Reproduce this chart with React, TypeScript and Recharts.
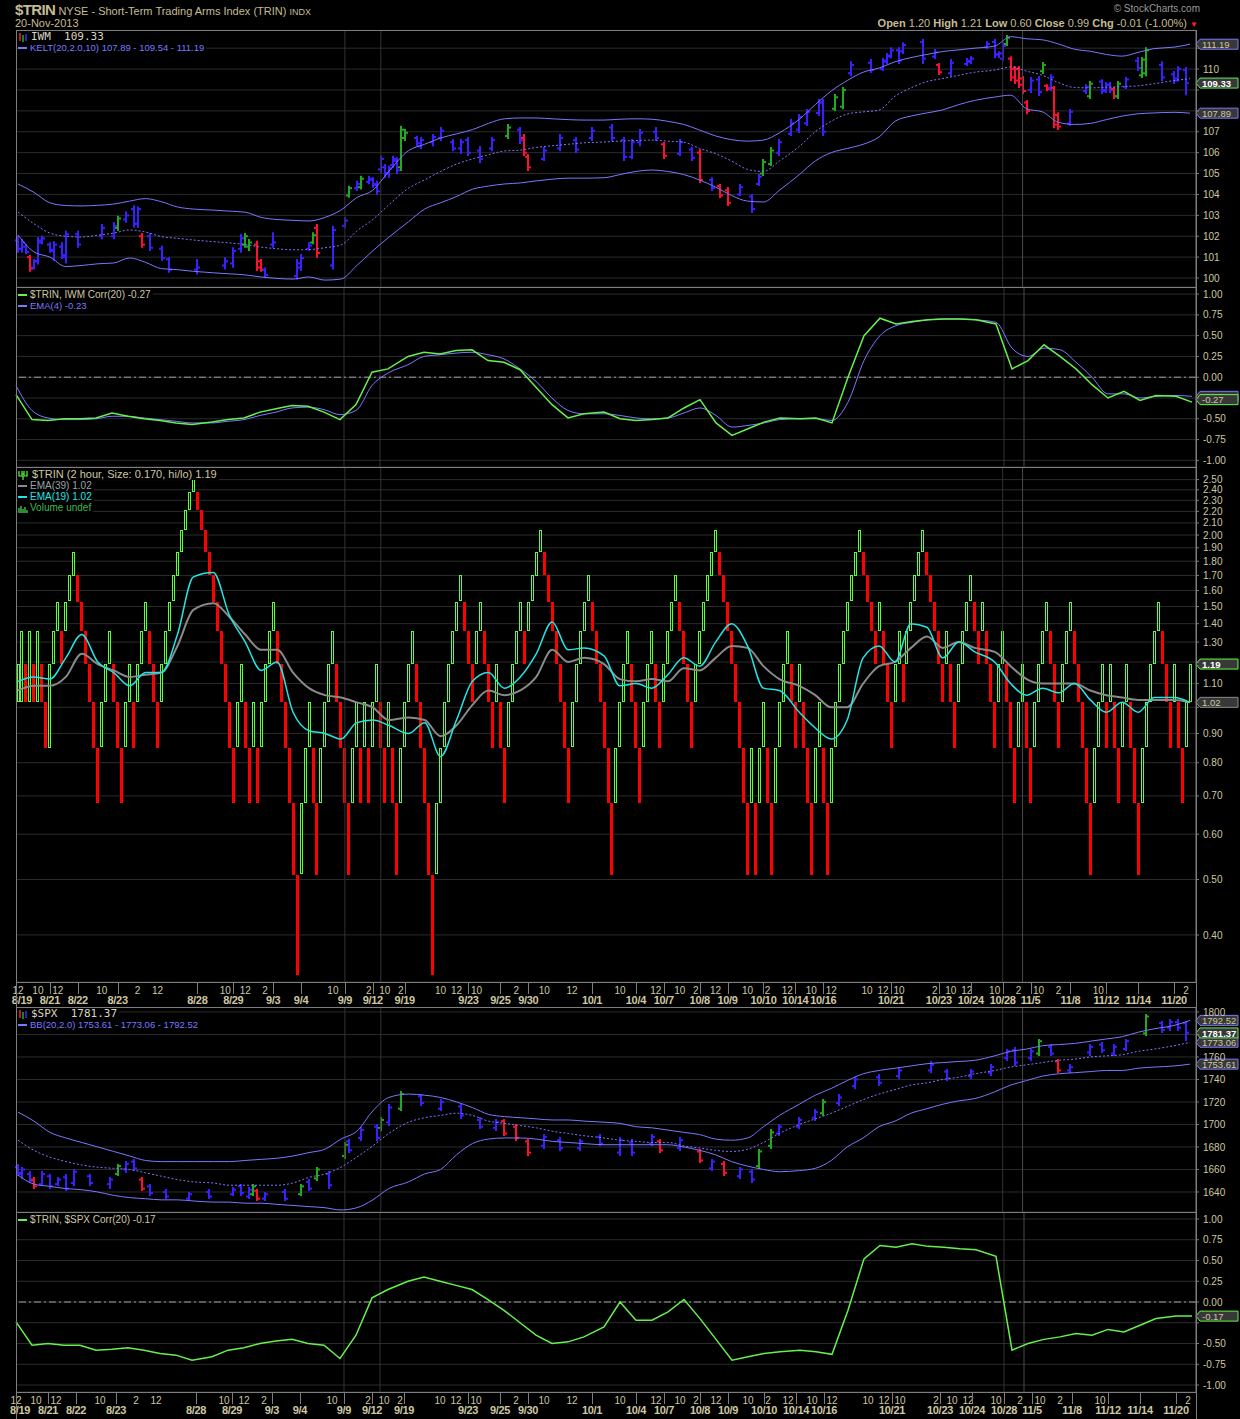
import React from "react";
import {
  ComposedChart,
  Bar,
  Line,
  XAxis,
  YAxis,
  CartesianGrid,
  ReferenceLine,
} from "recharts";

// number of x slots (one per TRIN brick column)
const N = 296;

// TRIN bricks, [open, close]; close > open is an up (green) brick
const trinBricks: [number, number][] = [
  [1.02, 1.19], [1.02, 1.36], [1.19, 1.02], [1.02, 1.36], [1.19, 1.02], [1.02, 1.36], [1.19, 1.02], [1.02, 0.85],
  [0.85, 1.19], [1.19, 1.36], [1.36, 1.53], [1.36, 1.19], [1.36, 1.53], [1.53, 1.7], [1.7, 1.87], [1.7, 1.53],
  [1.53, 1.36], [1.36, 1.19], [1.19, 1.02], [1.02, 0.85], [0.85, 0.68], [0.85, 1.02], [1.02, 1.19], [1.19, 1.36],
  [1.19, 1.02], [1.02, 0.85], [0.85, 0.68], [0.85, 1.02], [1.02, 1.19], [1.02, 0.85], [1.02, 1.19], [1.19, 1.36],
  [1.36, 1.53], [1.36, 1.19], [1.19, 1.02], [1.02, 0.85], [1.02, 1.19], [1.19, 1.36], [1.36, 1.53], [1.53, 1.7],
  [1.7, 1.87], [1.87, 2.04], [2.04, 2.21], [2.21, 2.38], [2.38, 2.55], [2.38, 2.21], [2.21, 2.04], [2.04, 1.87],
  [1.87, 1.7], [1.7, 1.53], [1.53, 1.36], [1.36, 1.19], [1.19, 1.02], [1.02, 0.85], [0.85, 0.68], [0.85, 1.02],
  [1.02, 1.19], [1.02, 0.85], [0.85, 0.68], [0.85, 1.02], [0.85, 0.68], [0.85, 1.02], [1.02, 1.19], [1.19, 1.36],
  [1.36, 1.53], [1.36, 1.19], [1.19, 1.02], [1.02, 0.85], [0.85, 0.68], [0.68, 0.51], [0.51, 0.34], [0.51, 0.68],
  [0.68, 0.85], [0.85, 1.02], [0.85, 0.68], [0.68, 0.51], [0.68, 0.85], [0.85, 1.02], [1.02, 1.19], [1.19, 1.36],
  [1.19, 1.02], [1.02, 0.85], [0.85, 0.68], [0.68, 0.51], [0.68, 0.85], [0.85, 1.02], [0.85, 0.68], [0.85, 1.02],
  [0.85, 0.68], [0.85, 1.02], [1.02, 1.19], [1.02, 0.85], [0.85, 0.68], [0.85, 1.02], [0.85, 0.68], [0.68, 0.51],
  [0.68, 0.85], [0.85, 1.02], [1.02, 1.19], [1.19, 1.36], [1.19, 1.02], [1.02, 0.85], [0.85, 0.68], [0.68, 0.51],
  [0.51, 0.34], [0.51, 0.68], [0.68, 0.85], [0.85, 1.02], [1.02, 1.19], [1.19, 1.36], [1.36, 1.53], [1.53, 1.7],
  [1.53, 1.36], [1.36, 1.19], [1.19, 1.02], [1.19, 1.36], [1.36, 1.53], [1.36, 1.19], [1.19, 1.02], [1.02, 0.85],
  [1.02, 1.19], [1.02, 0.85], [0.85, 0.68], [0.85, 1.02], [1.02, 1.19], [1.19, 1.36], [1.36, 1.53], [1.36, 1.19],
  [1.36, 1.53], [1.53, 1.7], [1.7, 1.87], [1.87, 2.04], [1.87, 1.7], [1.7, 1.53], [1.53, 1.36], [1.36, 1.19],
  [1.19, 1.02], [1.02, 0.85], [0.85, 0.68], [0.85, 1.02], [1.02, 1.19], [1.19, 1.36], [1.36, 1.53], [1.53, 1.7],
  [1.53, 1.36], [1.36, 1.19], [1.19, 1.02], [1.02, 0.85], [0.85, 0.68], [0.68, 0.51], [0.68, 0.85], [0.85, 1.02],
  [1.02, 1.19], [1.19, 1.36], [1.19, 1.02], [1.02, 0.85], [0.85, 0.68], [0.85, 1.02], [1.02, 1.19], [1.19, 1.36],
  [1.19, 1.02], [1.02, 0.85], [1.02, 1.19], [1.19, 1.36], [1.36, 1.53], [1.53, 1.7], [1.53, 1.36], [1.36, 1.19],
  [1.19, 1.02], [1.02, 0.85], [1.02, 1.19], [1.19, 1.36], [1.36, 1.53], [1.53, 1.7], [1.7, 1.87], [1.87, 2.04],
  [1.87, 1.7], [1.7, 1.53], [1.53, 1.36], [1.36, 1.19], [1.19, 1.02], [1.02, 0.85], [0.85, 0.68], [0.68, 0.51],
  [0.68, 0.85], [0.68, 0.51], [0.68, 0.85], [0.85, 1.02], [0.85, 0.68], [0.68, 0.51], [0.68, 0.85], [0.85, 1.02],
  [1.02, 1.19], [1.19, 1.36], [1.19, 1.02], [1.02, 0.85], [1.02, 1.19], [1.02, 0.85], [0.85, 0.68], [0.68, 0.51],
  [0.68, 0.85], [0.85, 1.02], [0.85, 0.68], [0.68, 0.51], [0.68, 0.85], [0.85, 1.02], [1.02, 1.19], [1.19, 1.36],
  [1.36, 1.53], [1.53, 1.7], [1.7, 1.87], [1.87, 2.04], [1.87, 1.7], [1.7, 1.53], [1.53, 1.36], [1.36, 1.19],
  [1.36, 1.53], [1.36, 1.19], [1.19, 1.02], [1.02, 0.85], [1.02, 1.19], [1.19, 1.36], [1.19, 1.02], [1.19, 1.36],
  [1.36, 1.53], [1.53, 1.7], [1.7, 1.87], [1.87, 2.04], [1.87, 1.7], [1.7, 1.53], [1.53, 1.36], [1.36, 1.19],
  [1.19, 1.02], [1.19, 1.36], [1.19, 1.02], [1.02, 0.85], [1.02, 1.19], [1.19, 1.36], [1.36, 1.53], [1.53, 1.7],
  [1.53, 1.36], [1.36, 1.19], [1.36, 1.53], [1.36, 1.19], [1.19, 1.02], [1.02, 0.85], [1.02, 1.19], [1.19, 1.36],
  [1.19, 1.02], [1.02, 0.85], [0.85, 0.68], [0.85, 1.02], [1.02, 1.19], [1.02, 0.85], [0.85, 0.68], [0.85, 1.02],
  [1.02, 1.19], [1.19, 1.36], [1.36, 1.53], [1.36, 1.19], [1.19, 1.02], [1.02, 0.85], [1.02, 1.19], [1.19, 1.36],
  [1.36, 1.53], [1.36, 1.19], [1.19, 1.02], [1.02, 0.85], [0.85, 0.68], [0.68, 0.51], [0.68, 0.85], [0.85, 1.02],
  [1.02, 1.19], [1.02, 0.85], [1.02, 1.19], [1.02, 0.85], [0.85, 0.68], [0.85, 1.02], [1.02, 1.19], [1.02, 0.85],
  [0.85, 0.68], [0.68, 0.51], [0.68, 0.85], [0.85, 1.02], [1.02, 1.19], [1.19, 1.36], [1.36, 1.53], [1.36, 1.19],
  [1.19, 1.02], [1.02, 0.85], [1.02, 1.19], [1.02, 0.85], [0.85, 0.68], [0.85, 1.02], [1.02, 1.19],
];

// slots where the indicator lines were read
const lineSlots = [
  0, 4, 8, 12, 16, 20, 24, 28, 32, 36, 40, 44, 49, 53, 57, 61, 65, 69, 73, 77,
  81, 85, 89, 93, 98, 102, 106, 110, 114, 118, 122, 126, 130, 134, 138, 142, 147, 151, 155, 159,
  163, 167, 171, 175, 179, 183, 187, 191, 196, 200, 204, 208, 212, 216, 220, 224, 228, 232, 236, 240,
  245, 249, 253, 257, 261, 265, 269, 273, 277, 281, 285, 290, 294,
];

const trinEma19 = [
  1.11, 1.13, 1.12, 1.22, 1.34, 1.2, 1.15, 1.09, 1.15, 1.15, 1.34, 1.69, 1.72, 1.45, 1.3, 1.16, 1.2, 0.98, 0.91, 0.9,
  0.88, 0.94, 0.95, 0.93, 0.9, 0.94, 0.82, 0.95, 1.11, 1.15, 1.08, 1.13, 1.24, 1.41, 1.26, 1.27, 1.23, 1.09, 1.1, 1.08,
  1.14, 1.22, 1.18, 1.3, 1.4, 1.28, 1.08, 1.07, 0.98, 0.92, 0.88, 0.95, 1.22, 1.28, 1.2, 1.4, 1.38, 1.22, 1.3, 1.25,
  1.2, 1.1, 1.05, 1.08, 1.06, 1.1, 1.03, 0.98, 1.02, 0.98, 1.04, 1.04, 1.02,
];
const trinEma39 = [
  1.07, 1.09, 1.09, 1.13, 1.24, 1.19, 1.16, 1.13, 1.14, 1.15, 1.28, 1.48, 1.52, 1.44, 1.34, 1.26, 1.26, 1.15, 1.08, 1.05,
  1.04, 1.02, 1.0, 0.95, 0.96, 0.95, 0.89, 0.93, 1.01, 1.07, 1.05, 1.07, 1.13, 1.26, 1.2, 1.22, 1.19, 1.12, 1.11, 1.12,
  1.11, 1.17, 1.16, 1.22, 1.28, 1.27, 1.18, 1.12, 1.09, 1.05, 1.0, 1.0, 1.1, 1.18, 1.2, 1.27, 1.33, 1.27, 1.3, 1.27,
  1.25, 1.18, 1.12, 1.1, 1.1, 1.1, 1.07, 1.05, 1.04, 1.03, 1.03, 1.03, 1.02,
];

const iwmCorr = [
  -0.21, -0.51, -0.52, -0.5, -0.5, -0.49, -0.43, -0.47, -0.5, -0.52, -0.55, -0.57, -0.54, -0.51, -0.49, -0.42, -0.38, -0.34, -0.35, -0.42,
  -0.51, -0.33, 0.06, 0.1, 0.25, 0.3, 0.28, 0.32, 0.33, 0.2, 0.18, 0.09, -0.12, -0.33, -0.49, -0.44, -0.42, -0.5, -0.52, -0.51,
  -0.49, -0.37, -0.27, -0.55, -0.7, -0.62, -0.54, -0.49, -0.5, -0.49, -0.55, 0.0, 0.5, 0.71, 0.64, 0.67, 0.69, 0.7, 0.7, 0.69,
  0.64, 0.1, 0.2, 0.39, 0.25, 0.1, -0.09, -0.25, -0.17, -0.28, -0.22, -0.23, -0.3,
];
const iwmCorrEma = [
  -0.1, -0.4, -0.49, -0.51, -0.51, -0.5, -0.47, -0.47, -0.49, -0.51, -0.53, -0.55, -0.55, -0.53, -0.51, -0.46, -0.42, -0.37, -0.36, -0.39,
  -0.45, -0.4, -0.1, 0.05, 0.15, 0.25, 0.27, 0.29, 0.3, 0.27, 0.22, 0.1, -0.05, -0.25, -0.4, -0.44, -0.44, -0.46, -0.49, -0.5,
  -0.49, -0.43, -0.37, -0.46, -0.6, -0.58, -0.55, -0.51, -0.5, -0.5, -0.52, -0.3, 0.2, 0.5, 0.62, 0.66, 0.69, 0.7, 0.7, 0.69,
  0.66, 0.35, 0.25, 0.35, 0.33, 0.18, 0.0, -0.2, -0.2, -0.25, -0.23, -0.22, -0.23,
];
const spxCorr = [
  -0.24, -0.52, -0.5, -0.52, -0.52, -0.58, -0.57, -0.55, -0.58, -0.62, -0.64, -0.7, -0.66, -0.58, -0.55, -0.5, -0.47, -0.45, -0.5, -0.52,
  -0.68, -0.4, 0.05, 0.15, 0.25, 0.3, 0.25, 0.2, 0.15, 0.03, -0.1, -0.25, -0.4, -0.5, -0.48, -0.42, -0.3, 0.0, -0.22, -0.22,
  -0.12, 0.03, -0.2, -0.45, -0.7, -0.66, -0.62, -0.6, -0.58, -0.6, -0.63, -0.1, 0.52, 0.68, 0.66, 0.7, 0.67, 0.66, 0.64, 0.63,
  0.55, -0.58, -0.5, -0.45, -0.42, -0.38, -0.4, -0.33, -0.36, -0.28, -0.2, -0.17, -0.17,
];

const keltUpper = [
  104.5, 104.1, 103.6, 103.47, 103.45, 103.48, 103.54, 103.68, 103.8, 103.65, 103.4, 103.3, 103.25, 103.2, 103.15, 102.9, 102.8, 102.76, 102.73, 102.9,
  103.25, 103.85, 104.2, 105.1, 106.1, 106.4, 106.7, 106.9, 107.1, 107.4, 107.62, 107.66, 107.66, 107.62, 107.58, 107.56, 107.56, 107.6, 107.62, 107.6,
  107.5, 107.35, 107.08, 106.8, 106.62, 106.55, 106.6, 106.95, 107.6, 108.3, 108.95, 109.45, 109.85, 110.05, 110.35, 110.55, 110.7, 110.84, 110.92, 111.0,
  111.1, 111.55, 111.45, 111.4, 111.2, 110.95, 110.85, 110.7, 110.62, 110.8, 110.98, 111.05, 111.19,
];
const keltMid = [
  103.16, 102.6, 102.15, 102.0, 101.96, 102.05, 102.15, 102.3, 102.2, 101.98, 101.9, 101.82, 101.74, 101.68, 101.6, 101.48, 101.4, 101.35, 101.36, 101.45,
  101.58, 102.25, 102.8, 103.5, 104.3, 104.7, 105.1, 105.45, 105.7, 105.9, 106.08, 106.12, 106.25, 106.33, 106.4, 106.47, 106.51, 106.55, 106.58, 106.6,
  106.55, 106.5, 106.2, 105.95, 105.6, 105.2, 105.1, 105.6, 106.3, 107.0, 107.5, 107.85, 107.95, 108.04, 108.7, 109.1, 109.4, 109.55, 109.7, 109.85,
  109.95, 110.1, 109.9, 109.7, 109.35, 109.12, 109.1, 109.13, 109.16, 109.2, 109.3, 109.45, 109.54,
];
const keltLower = [
  102.06, 101.25, 101.0, 100.55, 100.6, 100.68, 100.72, 100.96, 100.75, 100.45, 100.4, 100.32, 100.25, 100.2, 100.15, 100.05, 99.98, 99.95, 100.05, 99.9,
  99.95, 100.6, 101.3, 101.95, 102.7, 103.3, 103.6, 103.9, 104.25, 104.4, 104.5, 104.55, 104.65, 104.73, 104.78, 104.78, 104.8, 104.95, 105.1, 105.17,
  105.1, 104.95, 104.69, 104.35, 103.95, 103.68, 103.64, 104.2, 104.95, 105.6, 106.0, 106.2, 106.4, 106.75, 107.5, 107.75, 107.9, 108.05, 108.3, 108.5,
  108.66, 108.75, 108.1, 107.95, 107.45, 107.35, 107.4, 107.58, 107.75, 107.86, 107.9, 107.93, 107.89,
];

const bbUpper = [
  1711, 1703, 1693, 1688, 1684, 1680, 1676, 1672, 1668, 1667, 1667, 1667, 1667, 1667, 1668, 1669, 1670, 1672, 1675, 1678,
  1687, 1694, 1712, 1724, 1727, 1726, 1724, 1720, 1715, 1709, 1707, 1706, 1705, 1704, 1704, 1703, 1702, 1701, 1698, 1697,
  1695, 1693, 1691, 1687, 1686, 1688, 1698, 1708, 1718, 1726, 1732, 1739, 1745, 1748, 1750, 1752, 1754, 1755, 1756, 1757,
  1761, 1765, 1767, 1770, 1771, 1772, 1774, 1776, 1778, 1782, 1785, 1788, 1792.5,
];
const bbMid = [
  1686, 1677, 1671, 1667, 1664, 1662, 1661, 1660, 1657, 1654, 1651, 1649, 1648, 1646, 1646, 1646, 1646, 1648, 1653, 1656,
  1662, 1671, 1681, 1692, 1702, 1706, 1708, 1710, 1708, 1703, 1701, 1699, 1697, 1694, 1692, 1690, 1688, 1686, 1685, 1684,
  1684, 1681, 1679, 1677, 1676, 1678, 1684, 1692, 1700, 1705, 1710, 1716, 1722, 1727, 1731, 1735, 1737, 1740, 1742, 1745,
  1748, 1751, 1753, 1755, 1757, 1758, 1760, 1761, 1762, 1765, 1767, 1770, 1773,
];
const bbLower = [
  1655, 1647, 1645, 1643, 1642, 1640, 1637, 1635, 1634, 1633, 1633, 1632, 1631, 1631, 1630, 1630, 1629, 1628, 1627, 1626,
  1624, 1626, 1633, 1643, 1649, 1656, 1660, 1673, 1683, 1687, 1688, 1688, 1687, 1685, 1684, 1683, 1682, 1682, 1682, 1682,
  1682, 1680, 1677, 1673, 1667, 1663, 1660, 1658, 1659, 1661, 1668, 1680, 1688, 1698, 1703, 1710, 1714, 1718, 1721, 1723,
  1729, 1735, 1739, 1743, 1745, 1746, 1747, 1748, 1748, 1750, 1751, 1752, 1753.6,
];

// price bars: [slot, open, high, low, close, colour code]
type Ohlc = [number, number, number, number, number, string];
const iwmBars: Ohlc[] = [
  [0, 101.8, 101.98, 101.26, 101.4, "b"], [1, 101.4, 101.82, 101.26, 101.7, "b"], [2, 101.5, 101.58, 101.18, 101.25, "b"],
  [3, 101.0, 101.05, 100.35, 100.45, "r"], [4, 100.5, 100.86, 100.46, 100.8, "b"], [5, 100.8, 101.9, 100.7, 101.8, "b"],
  [6, 101.7, 101.98, 101.66, 101.9, "b"], [8, 101.6, 101.66, 101.26, 101.35, "b"], [9, 101.3, 101.71, 100.86, 101.6, "b"],
  [11, 101.5, 101.66, 100.94, 101.1, "b"], [12, 101.0, 102.22, 100.74, 102.1, "b"], [15, 102.1, 102.22, 101.5, 101.6, "b"],
  [21, 102.0, 102.54, 101.9, 102.4, "b"], [24, 102.0, 102.62, 101.9, 102.5, "b"], [25, 102.4, 102.93, 102.3, 102.85, "g"],
  [27, 102.8, 103.13, 102.69, 103.0, "b"], [29, 103.3, 103.44, 102.45, 102.6, "b"], [30, 102.6, 103.38, 102.45, 103.3, "b"],
  [31, 102.0, 102.11, 101.5, 101.6, "r"], [33, 102.0, 102.11, 101.34, 101.45, "b"], [36, 101.4, 101.5, 100.86, 100.95, "b"],
  [38, 100.9, 100.94, 100.3, 100.4, "b"], [45, 100.4, 100.86, 100.22, 100.5, "b"], [52, 100.6, 100.94, 100.46, 100.8, "b"],
  [54, 100.7, 101.42, 100.54, 101.3, "b"], [56, 101.4, 102.06, 101.26, 101.9, "b"], [57, 101.6, 102.11, 101.5, 102.0, "g"],
  [58, 101.5, 101.82, 101.34, 101.7, "g"], [60, 101.6, 101.74, 100.38, 100.5, "r"], [61, 100.8, 100.86, 100.35, 100.4, "r"],
  [62, 100.4, 100.46, 100.06, 100.15, "b"], [64, 101.6, 102.14, 101.5, 101.7, "b"], [70, 100.1, 100.86, 99.98, 100.7, "b"],
  [71, 100.5, 101.1, 100.38, 100.95, "b"], [73, 101.4, 101.66, 101.34, 101.55, "b"], [74, 101.7, 102.14, 101.66, 102.05, "g"],
  [75, 102.4, 102.54, 101.02, 101.2, "r"], [79, 100.6, 102.45, 100.46, 102.3, "b"], [82, 102.5, 102.86, 102.45, 102.75, "b"],
  [83, 103.95, 104.37, 103.89, 104.3, "g"], [85, 104.3, 104.61, 104.21, 104.5, "b"], [86, 104.35, 104.85, 104.29, 104.75, "g"],
  [88, 104.6, 104.85, 104.53, 104.75, "b"], [89, 104.7, 104.77, 104.37, 104.45, "b"], [90, 104.5, 104.61, 104.05, 104.15, "b"],
  [91, 105.2, 105.8, 105.09, 105.7, "b"], [92, 105.3, 105.41, 104.85, 105.0, "b"], [93, 105.0, 105.33, 104.85, 105.25, "b"],
  [94, 105.4, 105.8, 105.33, 105.7, "b"], [95, 105.6, 105.73, 105.01, 105.15, "b"], [96, 105.3, 107.24, 105.17, 107.1, "g"],
  [97, 106.7, 107.08, 106.6, 106.95, "g"], [100, 106.7, 106.76, 106.36, 106.45, "b"], [101, 106.3, 106.7, 106.22, 106.6, "b"],
  [104, 106.5, 106.84, 106.36, 106.75, "b"], [106, 106.7, 107.18, 106.6, 107.05, "b"], [109, 106.5, 106.6, 106.12, 106.2, "b"],
  [111, 106.2, 106.6, 105.98, 106.5, "b"], [113, 106.6, 106.7, 105.89, 106.0, "b"], [116, 106.1, 106.27, 105.55, 105.7, "b"],
  [119, 106.2, 106.7, 106.12, 106.6, "b"], [123, 106.8, 107.32, 106.7, 107.2, "g"], [126, 107.1, 107.18, 106.46, 106.6, "b"],
  [127, 106.7, 106.84, 105.89, 106.0, "r"], [128, 105.8, 105.89, 105.17, 105.3, "r"], [132, 105.7, 106.22, 105.65, 106.1, "b"],
  [136, 106.2, 106.84, 106.12, 106.7, "b"], [140, 106.6, 106.7, 106.03, 106.15, "b"], [144, 106.7, 107.18, 106.6, 107.05, "b"],
  [149, 107.2, 107.32, 106.6, 106.7, "b"], [152, 106.6, 106.7, 105.65, 105.8, "b"], [154, 105.8, 106.6, 105.74, 106.5, "b"],
  [156, 106.5, 107.08, 106.36, 106.95, "b"], [160, 107.0, 107.18, 106.6, 106.7, "b"], [162, 106.4, 106.46, 105.74, 105.85, "r"],
  [166, 105.95, 106.6, 105.89, 106.5, "b"], [169, 106.15, 106.22, 105.65, 105.75, "b"], [171, 106.0, 106.12, 104.59, 104.7, "r"],
  [174, 104.7, 104.78, 104.21, 104.3, "b"], [176, 104.4, 104.45, 103.88, 103.95, "r"], [178, 104.2, 104.31, 103.49, 103.6, "r"],
  [181, 104.0, 104.45, 103.97, 104.35, "b"], [184, 103.9, 103.97, 103.16, 103.3, "b"], [186, 104.5, 104.93, 104.45, 104.85, "b"],
  [187, 105.0, 105.65, 104.93, 105.55, "g"], [189, 105.45, 106.22, 105.41, 106.1, "g"], [191, 106.0, 106.6, 105.89, 106.5, "b"],
  [194, 106.9, 107.56, 106.84, 107.4, "b"], [196, 107.1, 107.8, 106.99, 107.7, "b"], [198, 107.4, 108.04, 107.32, 107.95, "b"],
  [201, 107.9, 108.52, 107.8, 108.4, "b"], [202, 108.4, 108.52, 106.84, 107.0, "b"], [205, 108.1, 108.76, 108.04, 108.65, "g"],
  [207, 108.2, 109.09, 108.13, 109.0, "g"], [209, 109.8, 110.33, 109.71, 110.2, "b"], [214, 110.3, 110.43, 109.86, 109.95, "b"],
  [217, 110.0, 110.48, 109.95, 110.4, "b"], [218, 110.35, 110.72, 110.29, 110.6, "b"], [219, 110.65, 111.0, 110.57, 110.9, "b"],
  [221, 110.9, 111.0, 110.29, 110.4, "b"], [222, 110.85, 111.24, 110.77, 111.15, "b"], [227, 111.3, 111.39, 110.29, 110.5, "b"],
  [230, 110.6, 110.91, 110.53, 110.8, "b"], [231, 110.2, 110.24, 109.76, 109.85, "r"], [234, 109.8, 110.43, 109.71, 110.3, "b"],
  [238, 110.25, 110.48, 110.19, 110.4, "b"], [239, 110.35, 110.57, 110.29, 110.5, "b"], [243, 111.05, 111.29, 111.0, 111.2, "b"],
  [245, 111.3, 111.39, 110.57, 110.7, "b"], [246, 110.7, 110.81, 110.57, 110.75, "b"], [247, 110.5, 111.24, 110.43, 111.1, "b"],
  [248, 111.2, 111.58, 111.15, 111.5, "g"], [249, 110.5, 110.57, 109.47, 109.6, "r"], [250, 110.0, 110.1, 109.33, 109.45, "r"],
  [251, 110.0, 110.1, 109.14, 109.25, "r"], [252, 109.55, 109.62, 108.85, 108.95, "r"], [253, 108.4, 108.47, 107.89, 108.0, "r"],
  [254, 109.0, 109.57, 108.9, 109.45, "b"], [256, 109.5, 109.62, 108.76, 108.9, "b"], [257, 109.9, 110.29, 109.81, 110.2, "g"],
  [258, 109.2, 109.23, 108.99, 109.05, "r"], [259, 109.1, 109.71, 108.99, 109.6, "b"], [260, 109.1, 109.14, 107.22, 107.35, "r"],
  [261, 107.8, 107.89, 107.13, 107.25, "r"], [264, 107.4, 108.04, 107.32, 107.95, "b"], [268, 108.95, 109.23, 108.85, 109.15, "b"],
  [269, 108.7, 109.38, 108.61, 109.3, "g"], [272, 109.4, 109.47, 108.85, 108.95, "b"], [273, 109.0, 109.33, 108.9, 109.25, "b"],
  [274, 109.25, 109.33, 108.9, 109.0, "b"], [275, 109.05, 109.09, 108.61, 108.7, "r"], [276, 108.7, 109.38, 108.61, 109.3, "g"],
  [278, 109.15, 109.57, 109.09, 109.5, "b"], [281, 110.4, 110.53, 109.95, 110.05, "b"], [282, 109.7, 110.53, 109.62, 110.45, "g"],
  [283, 109.8, 111.0, 109.71, 110.9, "g"], [287, 110.2, 110.33, 109.47, 109.6, "b"], [290, 109.75, 109.86, 109.33, 109.45, "b"],
  [291, 109.55, 110.1, 109.47, 110.0, "b"], [293, 109.95, 110.05, 108.8, 109.33, "b"],
];

const spxBars: Ohlc[] = [
  [0, 1662, 1664, 1655.1, 1657, "b"], [1, 1656, 1661.3, 1652.4, 1660, "b"], [3, 1656, 1657.8, 1648.9, 1650, "b"],
  [4, 1651, 1652.4, 1643.6, 1645, "r"], [6, 1647, 1657.8, 1646.2, 1656, "b"], [8, 1654, 1655.1, 1643.6, 1645, "b"],
  [10, 1647, 1652.4, 1646.2, 1651, "b"], [12, 1653, 1655.1, 1641.8, 1643, "b"], [14, 1648, 1659.6, 1646.2, 1658, "b"],
  [18, 1654, 1655.1, 1646.2, 1648, "b"], [23, 1647, 1652.4, 1643.6, 1651, "b"], [25, 1656, 1664, 1655.1, 1663, "g"],
  [27, 1660, 1666.7, 1657.8, 1665, "b"], [29, 1667, 1668.4, 1659.6, 1661, "b"], [31, 1651, 1652.4, 1641.8, 1643, "r"],
  [33, 1645, 1646.2, 1637.3, 1639, "b"], [37, 1640, 1641.8, 1634.7, 1636, "b"], [43, 1634, 1639.1, 1632.9, 1638, "b"],
  [48, 1640, 1641.8, 1634.7, 1636, "b"], [54, 1638, 1643.6, 1637.3, 1642, "b"], [56, 1645, 1646.2, 1637.3, 1639, "b"],
  [58, 1636, 1643.6, 1634.7, 1642, "b"], [59, 1638, 1646.2, 1637.3, 1645, "g"], [60, 1641, 1641.8, 1632.9, 1634, "r"],
  [62, 1634, 1639.1, 1632.9, 1638, "b"], [67, 1640, 1641.8, 1632.9, 1634, "b"], [71, 1638, 1646.2, 1637.3, 1645, "g"],
  [73, 1649, 1650.7, 1641.8, 1643, "b"], [75, 1652, 1661.3, 1650.7, 1660, "g"], [78, 1656, 1657.8, 1643.6, 1646, "b"],
  [82, 1672, 1683.6, 1670.2, 1682, "g"], [83, 1685, 1686.2, 1675.6, 1677, "b"], [86, 1688, 1696.9, 1686.2, 1695, "b"],
  [90, 1698, 1699.6, 1686.2, 1688, "b"], [91, 1697, 1705.8, 1695.1, 1704, "g"], [93, 1702, 1717.3, 1699.6, 1715, "b"],
  [96, 1714, 1728.9, 1712.9, 1727, "g"], [101, 1725, 1726.2, 1717.3, 1719, "b"], [106, 1714, 1721.8, 1712.9, 1720, "b"],
  [111, 1716, 1717.3, 1705.8, 1708, "b"], [116, 1704, 1705.8, 1696.9, 1698, "b"], [120, 1697, 1704, 1695.1, 1702, "b"],
  [122, 1703, 1704, 1690.7, 1692, "r"], [125, 1698, 1699.6, 1686.2, 1688, "r"], [128, 1685, 1686.2, 1672.9, 1675, "r"],
  [132, 1681, 1690.7, 1679.1, 1689, "b"], [136, 1686, 1688, 1677.3, 1679, "b"], [141, 1679, 1686.2, 1677.3, 1685, "b"],
  [146, 1689, 1690.7, 1681.8, 1683, "b"], [151, 1675, 1688, 1672.9, 1686, "b"], [154, 1684, 1686.2, 1672.9, 1675, "b"],
  [159, 1683, 1690.7, 1681.8, 1689, "b"], [161, 1685, 1686.2, 1675.6, 1677, "r"], [166, 1679, 1688, 1677.3, 1686, "b"],
  [171, 1676, 1677.3, 1666.7, 1668, "r"], [174, 1661, 1668.4, 1659.6, 1667, "b"], [177, 1665, 1666.7, 1655.1, 1657, "r"],
  [181, 1654, 1661.3, 1652.4, 1660, "b"], [184, 1658, 1659.6, 1648.9, 1651, "b"], [186, 1663, 1677.3, 1661.3, 1676, "g"],
  [189, 1681, 1695.1, 1679.1, 1693, "g"], [191, 1692, 1699.6, 1690.7, 1698, "b"], [196, 1698, 1705.8, 1696.9, 1704, "b"],
  [200, 1706, 1712.9, 1704, 1711, "b"], [202, 1710, 1721.8, 1708.4, 1720, "g"], [206, 1719, 1726.2, 1717.3, 1724, "b"],
  [210, 1734, 1741.3, 1732.4, 1740, "b"], [216, 1742, 1744, 1735.1, 1737, "b"], [221, 1743, 1750.2, 1741.3, 1748, "b"],
  [229, 1748, 1755.6, 1746.7, 1753, "b"], [233, 1747, 1748.4, 1739.6, 1741, "b"], [239, 1743, 1748.4, 1741.3, 1747, "b"],
  [244, 1746, 1752.9, 1744, 1751, "b"], [248, 1759, 1766.2, 1757.3, 1765, "b"], [250, 1766, 1768, 1752.9, 1755, "b"],
  [254, 1759, 1766.2, 1757.3, 1765, "b"], [256, 1763, 1775.1, 1761.8, 1774, "g"], [259, 1769, 1770.7, 1761.8, 1763, "b"],
  [261, 1756, 1757.3, 1746.7, 1748, "r"], [264, 1748, 1752.9, 1746.7, 1751, "b"], [269, 1764, 1770.7, 1761.8, 1769, "b"],
  [272, 1771, 1772.4, 1764.4, 1766, "b"], [275, 1763, 1770.7, 1761.8, 1769, "b"], [278, 1767, 1775.1, 1766.2, 1774, "b"],
  [283, 1781, 1797.3, 1779.6, 1796, "g"], [287, 1790, 1791.1, 1782.2, 1784, "b"], [289, 1786, 1792.9, 1784, 1791, "b"],
  [291, 1791, 1792.9, 1784, 1786, "b"], [293, 1790, 1791.1, 1775.1, 1781.4, "b"],
];

// x axis labels, by slot
const hourTicks: [number, string][] = [
  [0, "12"], [5, "10"], [10, "12"], [21, "10"], [30, "2"], [35, "12"], [52, "10"], [57, "12"], [62, "2"], [79, "10"],
  [88, "2"], [92, "10"], [96, "2"], [106, "10"], [110, "12"], [115, "10"], [125, "2"], [132, "10"], [139, "12"], [151, "10"],
  [160, "12"], [166, "10"], [170, "2"], [175, "12"], [183, "10"], [188, "2"], [193, "12"], [199, "10"], [204, "12"], [213, "10"],
  [217, "12"], [221, "10"], [230, "2"], [234, "10"], [238, "12"], [245, "10"], [251, "2"], [256, "10"], [261, "2"], [271, "10"],
  [293, "2"],
];
const dateTicks: [number, string][] = [
  [1, "8/19"], [8, "8/21"], [15, "8/22"], [25, "8/23"], [45, "8/28"], [54, "8/29"], [64, "9/3"], [71, "9/4"], [82, "9/9"],
  [89, "9/12"], [97, "9/19"], [113, "9/23"], [121, "9/25"], [128, "9/30"], [144, "10/1"], [155, "10/4"], [162, "10/7"],
  [171, "10/8"], [178, "10/9"], [187, "10/10"], [195, "10/14"], [202, "10/16"], [219, "10/21"], [231, "10/23"], [239, "10/24"],
  [247, "10/28"], [254, "11/5"], [264, "11/8"], [273, "11/12"], [281, "11/14"], [290, "11/20"],
];
const gridSlots = [82, 91, 247, 252];

const iwmTicks = [100, 101, 102, 103, 104, 105, 106, 107, 108, 109, 110, 111];
const corrTicks = [-1, -0.75, -0.5, -0.25, 0, 0.25, 0.5, 0.75, 1];
const trinTicks = [0.4, 0.5, 0.6, 0.7, 0.8, 0.9, 1.0, 1.1, 1.2, 1.3, 1.4, 1.5, 1.6, 1.7, 1.8, 1.9, 2.0, 2.1, 2.2, 2.3, 2.4, 2.5];
const spxTicks = [1640, 1660, 1680, 1700, 1720, 1740, 1760, 1780, 1800];

// one table row per slot
const rows: any[] = Array.from({ length: N }, (_, i) => ({ i }));
trinBricks.forEach(([o, c], i) => {
  rows[i].trin = [Math.min(o, c), Math.max(o, c)];
  rows[i].trinUp = c > o;
});
lineSlots.forEach((s, k) => {
  Object.assign(rows[s], {
    ema19: trinEma19[k], ema39: trinEma39[k], corr: iwmCorr[k], corrEma: iwmCorrEma[k], spxCorr: spxCorr[k],
    kU: keltUpper[k], kM: keltMid[k], kL: keltLower[k], bU: bbUpper[k], bM: bbMid[k], bL: bbLower[k],
  });
});
const putBars = (bars: Ohlc[], key: string) =>
  bars.forEach(([s, o, h, l, c, col]) => {
    rows[s][key] = [l, h];
    rows[s][key + "O"] = o;
    rows[s][key + "C"] = c;
    rows[s][key + "Col"] = col;
  });
putBars(iwmBars, "iwm");
putBars(spxBars, "spx");

const FONT = '"Liberation Sans", Arial, sans-serif';
const TAN = "#cdc7a4";
const GRID = "#2b2b2b";
const EDGE = "#7d7d7d";
const BAND = "#7a78ff";
const CORR = "#66f04e";
const UP = "#5cff3c";
const BAR_COLORS: Record<string, string> = { b: "#3a20ff", g: "#1faa1f", r: "#ff1030" };

function Brick(props: any) {
  const { x, y, width, height, payload } = props;
  if (x == null || !payload || !payload.trin) return null;
  const top = Math.min(y, y + height);
  const h = Math.abs(height);
  const left = Math.round(x + (width - 3) / 2);
  if (payload.trinUp) {
    return (
      <rect x={left + 0.5} y={Math.round(top) + 0.5} width={2} height={Math.max(Math.round(h) - 1, 1)}
        fill="none" stroke={UP} strokeWidth={1} shapeRendering="crispEdges" />
    );
  }
  return <rect x={left} y={top} width={3} height={h} fill="#ff0000" shapeRendering="crispEdges" />;
}

function ohlc(key: string) {
  return (props: any) => {
    const { x, y, width, height, payload } = props;
    const range = payload && payload[key];
    if (!range || x == null) return null;
    const [lo, hi] = range;
    const top = Math.min(y, y + height);
    const h = Math.abs(height);
    const py = (v: number) => top + ((hi - v) / (hi - lo)) * h;
    const cx = Math.round(x + width / 2);
    const col = BAR_COLORS[payload[key + "Col"]];
    return (
      <g>
        <line x1={cx} x2={cx} y1={top - 1} y2={top + h + 1} stroke={col} strokeWidth={2} />
        <line x1={cx - 3} x2={cx} y1={py(payload[key + "O"])} y2={py(payload[key + "O"])} stroke={col} strokeWidth={2} />
        <line x1={cx} x2={cx + 3} y1={py(payload[key + "C"])} y2={py(payload[key + "C"])} stroke={col} strokeWidth={2} />
      </g>
    );
  };
}

function badge(text: string, stroke: string, bold = false) {
  return (props: any) => {
    const vb = props.viewBox || {};
    const x = vb.x + vb.width;
    const y = vb.y;
    return (
      <g>
        <path d={`M${x},${y} L${x + 4},${y - 5} H${x + 42} V${y + 5} H${x + 4} Z`} fill="#383838" stroke={stroke} strokeWidth={1} />
        <text x={x + 6} y={y + 3.6} fontSize={9.5} fontFamily={FONT} fill={bold ? "#ffffff" : TAN} fontWeight={bold ? "bold" : "normal"}>
          {text}
        </text>
      </g>
    );
  };
}

// tick labels that sit under a value badge are left blank (gridline kept)
const fmtHidden = (hidden: number[], digits: number) => (v: number) =>
  hidden.some((h) => Math.abs(h - v) < 1e-6) ? "" : v.toFixed(digits);

const hourMap = new Map(hourTicks);
const dateMap = new Map(dateTicks);

function HourTick(props: any) {
  const { x, y, payload } = props;
  return (
    <text x={x} y={y + 11.5} textAnchor="middle" fontSize={10} fontFamily={FONT} fill={TAN}>
      {hourMap.get(payload.value)}
    </text>
  );
}

function DateTick(props: any) {
  const { x, y, payload } = props;
  const first = payload.value === dateTicks[0][0];
  return (
    <g>
      {!first && <line x1={Math.round(x) + 0.5} x2={Math.round(x) + 0.5} y1={y - 13} y2={y - 1} stroke={EDGE} />}
      <text x={x} y={y + 9} textAnchor="middle" fontSize={11} fontWeight="bold" fontFamily={FONT} fill={TAN} letterSpacing={-0.3}>
        {dateMap.get(payload.value)}
      </text>
    </g>
  );
}

const yAxisProps = {
  orientation: "right" as const,
  width: 44,
  type: "number" as const,
  allowDataOverflow: true,
  interval: 0 as const,
  tickSize: 3,
  tickMargin: 4,
  tick: { fill: TAN, fontSize: 10, fontFamily: FONT },
  tickLine: { stroke: EDGE },
  axisLine: { stroke: EDGE },
};

const chartProps = {
  width: 1240,
  data: rows,
  margin: { top: 0, right: 0, bottom: 0, left: 16 },
  barCategoryGap: 0,
  barGap: 0,
};

const vGrid = (
  <>
    {gridSlots.map((s) => (
      <ReferenceLine key={s} x={s} stroke={s === 252 ? "#4a4a4a" : "#333333"} />
    ))}
  </>
);

function bottomAxes() {
  return [
    <XAxis key="h" dataKey="i" ticks={hourTicks.map((t) => t[0])} interval={0} tick={<HourTick />}
      tickLine={false} axisLine={false} height={13} tickSize={0} tickMargin={0} />,
    <XAxis key="d" xAxisId="d" dataKey="i" ticks={dateTicks.map((t) => t[0])} interval={0} tick={<DateTick />}
      tickLine={false} axisLine={false} height={14} tickSize={0} tickMargin={0} />,
  ];
}

const dash = (color: string) => (
  <span style={{ display: "inline-block", width: 9, height: 2, background: color, verticalAlign: "middle", marginRight: 3 }} />
);

const legendBox: React.CSSProperties = {
  position: "absolute",
  background: "#000",
  whiteSpace: "nowrap",
  fontFamily: FONT,
  lineHeight: "11px",
  paddingRight: 2,
};

function BarIcon() {
  return (
    <svg width={11} height={10} style={{ verticalAlign: "middle", marginRight: 2 }}>
      <line x1={2} x2={2} y1={1} y2={9} stroke="#ff2020" strokeWidth={1.5} />
      <line x1={5} x2={5} y1={3} y2={10} stroke="#20b020" strokeWidth={1.5} />
      <line x1={8} x2={8} y1={2} y2={9} stroke="#3030ff" strokeWidth={1.5} />
    </svg>
  );
}

export default function App() {
  return (
    <div style={{ position: "absolute", left: 0, top: 0, width: 1240, height: 1419, background: "#000", overflow: "hidden", fontFamily: FONT }}>
      {/* header */}
      <div style={{ position: "absolute", left: 15, top: 1, color: "#c4bc94", fontSize: 11, whiteSpace: "nowrap" }}>
        <span style={{ fontSize: 15, fontWeight: "bold", letterSpacing: -0.6 }}>$TRIN</span>
        <span> NYSE - Short-Term Trading Arms Index (TRIN) </span>
        <span style={{ fontSize: 9 }}>INDX</span>
      </div>
      <div style={{ position: "absolute", left: 15, top: 17, color: "#c4bc94", fontSize: 11 }}>20-Nov-2013</div>
      <div style={{ position: "absolute", right: 40, top: 3, color: "#9a9a9a", fontSize: 10 }}>© StockCharts.com</div>
      <div style={{ position: "absolute", right: 42, top: 17, color: "#c4bc94", fontSize: 11, whiteSpace: "nowrap" }}>
        <b>Open</b> 1.20 <b>High</b> 1.21 <b>Low</b> 0.60 <b>Close</b> 0.99 <b>Chg</b> -0.01 (-1.00%){" "}
        <span style={{ color: "#ff2020", fontSize: 8 }}>▼</span>
      </div>

      {/* IWM with Keltner channels */}
      <div style={{ position: "absolute", left: 0, top: 30 }}>
        <ComposedChart {...chartProps} height={257}>
          <CartesianGrid vertical={false} stroke={GRID} />
          <XAxis dataKey="i" hide />
          <YAxis {...yAxisProps} domain={[99.57, 111.87]} ticks={iwmTicks} tickFormatter={fmtHidden([111, 109, 108], 0)} />
          {vGrid}
          <Line dataKey="kU" stroke={BAND} strokeWidth={1} dot={false} connectNulls type="monotone" isAnimationActive={false} />
          <Line dataKey="kM" stroke={BAND} strokeWidth={1} strokeDasharray="2 2" dot={false} connectNulls type="monotone" isAnimationActive={false} />
          <Line dataKey="kL" stroke={BAND} strokeWidth={1} dot={false} connectNulls type="monotone" isAnimationActive={false} />
          <Bar dataKey="iwm" shape={ohlc("iwm")} isAnimationActive={false} />
          <ReferenceLine y={111.19} stroke="none" label={badge("111.19", BAND)} />
          <ReferenceLine y={107.89} stroke="none" label={badge("107.89", BAND)} />
          <ReferenceLine y={109.33} stroke="none" label={badge("109.33", "#5ee85e", true)} />
        </ComposedChart>
      </div>

      {/* TRIN / IWM correlation */}
      <div style={{ position: "absolute", left: 0, top: 287 }}>
        <ComposedChart {...chartProps} height={180}>
          <CartesianGrid vertical={false} stroke={GRID} />
          <XAxis dataKey="i" hide />
          <YAxis {...yAxisProps} domain={[-1.08, 1.085]} ticks={corrTicks} tickFormatter={fmtHidden([-0.25], 2)} />
          {vGrid}
          <ReferenceLine y={0} stroke="#a0a0a0" strokeDasharray="7 3 2 3" />
          <Line dataKey="corrEma" stroke={BAND} strokeWidth={1} dot={false} connectNulls type="monotone" isAnimationActive={false} />
          <Line dataKey="corr" stroke={CORR} strokeWidth={1.5} dot={false} connectNulls isAnimationActive={false} />
          <ReferenceLine y={-0.23} stroke="none" label={badge("-0.23", BAND)} />
          <ReferenceLine y={-0.27} stroke="none" label={badge("-0.27", CORR)} />
        </ComposedChart>
      </div>

      {/* TRIN bricks */}
      <div style={{ position: "absolute", left: 0, top: 467 }}>
        <ComposedChart {...chartProps} height={542}>
          <CartesianGrid vertical={false} stroke={GRID} />
          {bottomAxes()}
          <YAxis {...yAxisProps} scale="log" domain={[0.331, 2.63]} ticks={trinTicks} tickFormatter={fmtHidden([1.2, 1.0], 2)} />
          {vGrid}
          <Bar dataKey="trin" shape={<Brick />} isAnimationActive={false} />
          <Line dataKey="ema39" stroke="#8a8a8a" strokeWidth={2} dot={false} connectNulls type="monotone" isAnimationActive={false} />
          <Line dataKey="ema19" stroke="#22e6e6" strokeWidth={1.5} dot={false} connectNulls type="monotone" isAnimationActive={false} />
          <ReferenceLine y={1.02} stroke="none" label={badge("1.02", "#8a8a8a")} />
          <ReferenceLine y={1.19} stroke="none" label={badge("1.19", UP, true)} />
        </ComposedChart>
      </div>

      {/* SPX with Bollinger bands */}
      <div style={{ position: "absolute", left: 0, top: 1007 }}>
        <ComposedChart {...chartProps} height={205}>
          <CartesianGrid vertical={false} stroke={GRID} />
          <XAxis dataKey="i" hide />
          <YAxis {...yAxisProps} domain={[1622.2, 1804.4]} ticks={spxTicks} tickFormatter={fmtHidden([1780], 0)} />
          {vGrid}
          <Line dataKey="bU" stroke={BAND} strokeWidth={1} dot={false} connectNulls type="monotone" isAnimationActive={false} />
          <Line dataKey="bM" stroke={BAND} strokeWidth={1} strokeDasharray="2 2" dot={false} connectNulls type="monotone" isAnimationActive={false} />
          <Line dataKey="bL" stroke={BAND} strokeWidth={1} dot={false} connectNulls type="monotone" isAnimationActive={false} />
          <Bar dataKey="spx" shape={ohlc("spx")} isAnimationActive={false} />
          <ReferenceLine y={1792.52} stroke="none" label={badge("1792.52", BAND)} />
          <ReferenceLine y={1773.06} stroke="none" label={badge("1773.06", BAND)} />
          <ReferenceLine y={1753.61} stroke="none" label={badge("1753.61", BAND)} />
          <ReferenceLine y={1781.37} stroke="none" label={badge("1781.37", "#5ee85e", true)} />
        </ComposedChart>
      </div>

      {/* TRIN / SPX correlation */}
      <div style={{ position: "absolute", left: 0, top: 1212 }}>
        <ComposedChart {...chartProps} height={207}>
          <CartesianGrid vertical={false} stroke={GRID} />
          {bottomAxes()}
          <YAxis {...yAxisProps} domain={[-1.084, 1.084]} ticks={corrTicks} tickFormatter={fmtHidden([-0.25], 2)} />
          {vGrid}
          <ReferenceLine y={0} stroke="#a0a0a0" strokeDasharray="7 3 2 3" />
          <Line dataKey="spxCorr" stroke={CORR} strokeWidth={1.5} dot={false} connectNulls isAnimationActive={false} />
          <ReferenceLine y={-0.17} stroke="none" label={badge("-0.17", CORR)} />
        </ComposedChart>
      </div>

      {/* panel frames */}
      <svg width={1240} height={1419} style={{ position: "absolute", left: 0, top: 0, pointerEvents: "none" }}>
        {[30, 287, 467, 982, 1007, 1212, 1392].map((y) => (
          <line key={y} x1={16} x2={1197} y1={y + 0.5} y2={y + 0.5} stroke={EDGE} />
        ))}
        <line x1={16.5} x2={16.5} y1={30} y2={1419} stroke={EDGE} />
        <line x1={1196.5} x2={1196.5} y1={30} y2={1419} stroke={EDGE} />
      </svg>

      {/* legends */}
      <div style={{ ...legendBox, left: 18, top: 31, color: "#d8d4c0", fontSize: 11 }}>
        <BarIcon />
        <span style={{ fontFamily: '"DejaVu Sans Mono", monospace', fontSize: 11 }}>IWM&nbsp; 109.33</span>
      </div>
      <div style={{ ...legendBox, left: 18, top: 42, color: BAND, fontSize: 9.5 }}>
        {dash(BAND)}KELT(20,2.0,10) 107.89 - 109.54 - 111.19
      </div>

      <div style={{ ...legendBox, left: 18, top: 289, color: TAN, fontSize: 10 }}>
        {dash(CORR)}$TRIN, IWM Corr(20) -0.27
      </div>
      <div style={{ ...legendBox, left: 18, top: 300, color: BAND, fontSize: 9.5 }}>
        {dash(BAND)}EMA(4) -0.23
      </div>

      <div style={{ ...legendBox, left: 18, top: 469, color: TAN, fontSize: 11 }}>
        <svg width={11} height={10} style={{ verticalAlign: "middle", marginRight: 3 }}>
          <path d="M1,1 V6 H4 V1 M6,1 V6 H9 V1 M4,4 H6 M5,6 V10" stroke={UP} fill="none" strokeWidth={1.2} />
        </svg>
        $TRIN (2 hour, Size: 0.170, hi/lo) 1.19
      </div>
      <div style={{ ...legendBox, left: 18, top: 480, color: "#9aa0a8", fontSize: 10 }}>
        {dash("#8a8a8a")}EMA(39) 1.02
      </div>
      <div style={{ ...legendBox, left: 18, top: 491, color: "#22e6e6", fontSize: 10 }}>
        {dash("#22e6e6")}EMA(19) 1.02
      </div>
      <div style={{ ...legendBox, left: 18, top: 502, color: "#3cb84a", fontSize: 10 }}>
        <svg width={10} height={9} style={{ verticalAlign: "middle", marginRight: 2 }}>
          <path d="M1,9 V4 M3,9 V2 M5,9 V5 M7,9 V3 M9,9 V6" stroke="#3cb84a" strokeWidth={1.5} />
        </svg>
        Volume undef
      </div>

      <div style={{ ...legendBox, left: 18, top: 1008, color: "#d8d4c0", fontSize: 11 }}>
        <BarIcon />
        <span style={{ fontFamily: '"DejaVu Sans Mono", monospace', fontSize: 11 }}>$SPX&nbsp; 1781.37</span>
      </div>
      <div style={{ ...legendBox, left: 18, top: 1019, color: BAND, fontSize: 9.5 }}>
        {dash(BAND)}BB(20,2.0) 1753.61 - 1773.06 - 1792.52
      </div>

      <div style={{ ...legendBox, left: 18, top: 1214, color: TAN, fontSize: 10 }}>
        {dash(CORR)}$TRIN, $SPX Corr(20) -0.17
      </div>
    </div>
  );
}
